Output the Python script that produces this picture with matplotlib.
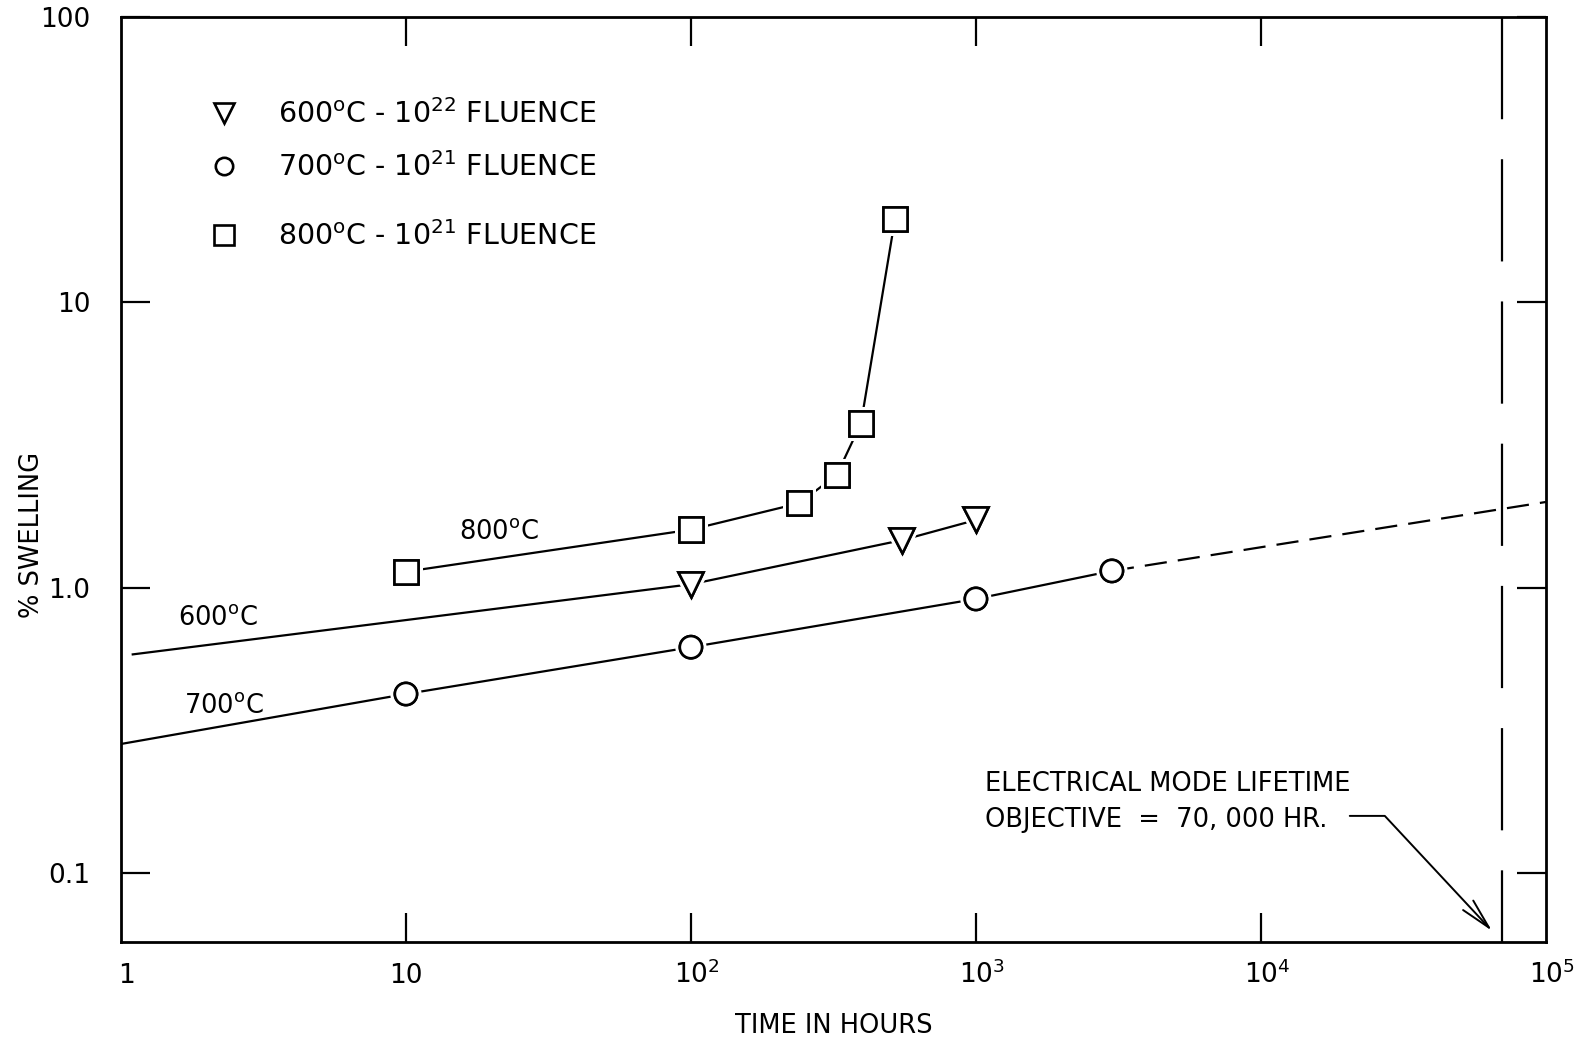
import matplotlib
matplotlib.use("Agg")
import matplotlib.pyplot as plt
from matplotlib.ticker import FixedLocator, NullLocator
import matplotlib.patheffects as pe
import matplotlib.transforms as mtransforms

plt.rcParams["font.family"] = ["DejaVu Sans"]
plt.rcParams["mathtext.fontset"] = "dejavusans"

# ---- measured swelling data (hours, % swelling) ----
hours_600 = [100, 550, 1000]
swell_600 = [1.03, 1.47, 1.73]
trend_600_hours = [1.1, 100, 550, 1000]
trend_600_swell = [0.585, 1.03, 1.47, 1.73]

hours_700 = [10, 100, 1000, 3000]
swell_700 = [0.425, 0.62, 0.915, 1.147]
trend_700_hours = [1, 10, 100, 1000, 3000]
trend_700_swell = [0.284, 0.425, 0.62, 0.915, 1.147]
proj_700_hours = [3000, 1e5]
proj_700_swell = [1.147, 2.0]

hours_800 = [10, 100, 240, 325, 395, 520]
swell_800 = [1.14, 1.60, 1.98, 2.49, 3.77, 19.6]

LIFETIME_HR = 70000

x_ticks = [1, 10, 100, 1000, 10000, 100000]
x_tick_labels = ["1", "10", r"10$^{\mathregular{2}}$", r"10$^{\mathregular{3}}$",
                 r"10$^{\mathregular{4}}$", r"10$^{\mathregular{5}}$"]
y_ticks = [0.1, 1.0, 10, 100]
y_tick_labels = ["0.1", "1.0", "10", "100"]

legend_markers = ["v", "o", "s"]
legend_labels = [r"600$^{\mathregular{o}}$C - 10$^{\mathregular{22}}$ FLUENCE",
                 r"700$^{\mathregular{o}}$C - 10$^{\mathregular{21}}$ FLUENCE",
                 r"800$^{\mathregular{o}}$C - 10$^{\mathregular{21}}$ FLUENCE"]

FS = 18.5
LW = 1.6
halo = [pe.withStroke(linewidth=6.5, foreground="white"), pe.Normal()]

fig = plt.figure(figsize=(15.81, 10.41), dpi=100)
ax = fig.add_axes([0.0765, 0.0951, 0.9013, 0.8886])
ax.set_xscale("log")
ax.set_yscale("log")
ax.set_xlim(1, 1e5)
ax.set_ylim(0.0575, 100)

# trend lines
ax.plot(trend_600_hours, trend_600_swell, color="black", lw=LW)
ax.plot(trend_700_hours, trend_700_swell, color="black", lw=LW)
ax.plot(proj_700_hours, proj_700_swell, color="black", lw=LW, ls=(0, (10, 5)))
ax.plot(hours_800, swell_800, color="black", lw=LW)

# data markers
mk = dict(ls="none", mfc="white", mec="black", mew=1.9, path_effects=halo, zorder=4)
ax.plot(hours_600, swell_600, marker="v", ms=18, **mk)
ax.plot(hours_700, swell_700, marker="o", ms=16, **mk)
ax.plot(hours_800, swell_800, marker="s", ms=17.5, **mk)

# lifetime objective
ax.axvline(LIFETIME_HR, ymin=1, ymax=0, color="black", lw=1.6, ls=(0, (46, 18)))

# curve labels
deg = r"$^{\mathregular{o}}$"
ax.text(21.2, 1.48, "800" + deg + "C", fontsize=FS, ha="center", va="baseline")
ax.text(2.19, 0.742, "600" + deg + "C", fontsize=FS, ha="center", va="baseline")
ax.text(2.30, 0.365, "700" + deg + "C", fontsize=FS, ha="center", va="baseline")

# legend
leg_y = [0.896, 0.839, 0.764]
leg_ms = [14, 12.5, 15]
for m, lab, yy, ms in zip(legend_markers, legend_labels, leg_y, leg_ms):
    ax.plot([0.0723], [yy], marker=m, ms=ms, mfc="white", mec="black", mew=1.9,
            transform=ax.transAxes, clip_on=False)
    ax.text(0.110, yy - 0.011, lab, fontsize=FS + 2.0, ha="left", va="baseline",
            transform=ax.transAxes)

# objective annotation
ax.text(1076, 0.1945, "ELECTRICAL MODE LIFETIME", fontsize=FS, ha="left",
        va="baseline")
ax.text(1076, 0.1455, "OBJECTIVE  =  70, 000 HR.", fontsize=FS, ha="left",
        va="baseline")
ax.annotate("", xy=(64700, 0.0629), xytext=(20500, 0.159),
            arrowprops=dict(arrowstyle="->,head_length=1.1,head_width=0.25",
                            connectionstyle="angle,angleA=0,angleB=-47,rad=0",
                            color="black", lw=1.4, shrinkA=0, shrinkB=0,
                            mutation_scale=20))

# axes frame and ticks
for s in ax.spines.values():
    s.set_linewidth(2.0)
ax.xaxis.set_major_locator(FixedLocator(x_ticks[1:-1]))
ax.xaxis.set_minor_locator(NullLocator())
ax.yaxis.set_major_locator(FixedLocator(y_ticks))
ax.yaxis.set_minor_locator(NullLocator())
ax.set_yticklabels(y_tick_labels)
ax.tick_params(axis="both", which="major", direction="in", length=21, width=1.6,
               top=True, right=True, labelbottom=False, labelsize=FS + 0.5)
ax.tick_params(axis="y", pad=22)

for xv, lab in zip(x_ticks, x_tick_labels):
    dx = 4.5 if "^" in lab else (4.0 if lab == "1" else 0.0)
    tr = mtransforms.offset_copy(ax.get_xaxis_transform(), fig=fig, x=dx, y=0,
                                 units="points")
    ax.text(xv, -0.0443, lab, transform=tr, fontsize=FS + 0.5,
            ha="center", va="baseline")

ax.set_xlabel("TIME IN HOURS", fontsize=FS)
ax.xaxis.set_label_coords(0.5, -0.0985)
ax.xaxis.label.set_va("baseline")
ax.set_ylabel("% SWELLING", fontsize=FS)
ax.yaxis.set_label_coords(-0.053, 0.44)

fig.savefig("out.png", dpi=100, facecolor="white")
